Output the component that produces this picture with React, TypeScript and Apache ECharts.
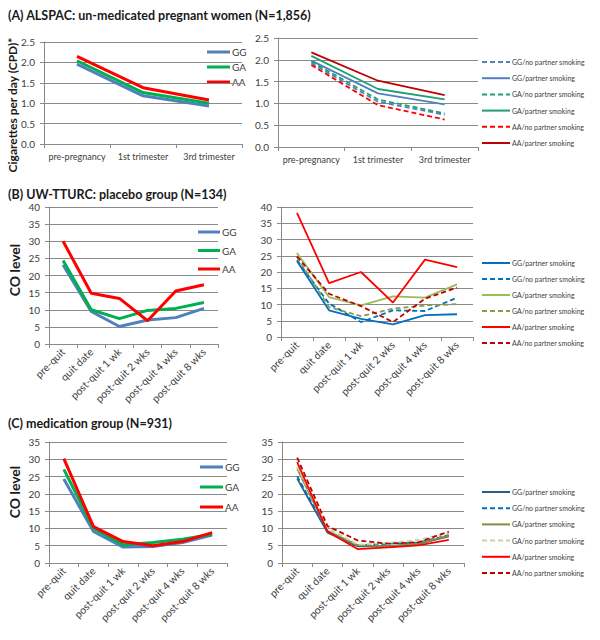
import React, { useEffect, useRef } from "react";
import * as echarts from "echarts";

const catsA = ["pre-pregnancy", "1st trimester", "3rd trimester"];
const catsBC = ["pre-quit", "quit date", "post-quit 1 wk", "post-quit 2 wks", "post-quit 4 wks", "post-quit 8 wks"];

// Panel A left
const aGG = [1.96, 1.18, 0.93];
const aGA = [2.04, 1.26, 1.0];
const aAA = [2.15, 1.38, 1.08];
// Panel A right
const aGGno = [1.92, 1.04, 0.74];
const aGGp = [1.98, 1.23, 0.98];
const aGAno = [1.96, 1.09, 0.77];
const aGAp = [2.09, 1.33, 1.09];
const aAAno = [1.88, 0.96, 0.63];
const aAAp = [2.17, 1.52, 1.19];
// Panel B left
const bGG = [23.1, 9.5, 5.1, 7.0, 7.7, 10.4];
const bGA = [24.4, 10.0, 7.4, 9.8, 10.4, 12.1];
const bAA = [30.0, 14.8, 13.3, 6.8, 15.5, 17.3];
// Panel B right
const bGGp = [23.4, 8.2, 5.6, 3.9, 6.7, 7.0];
const bGGno = [23.6, 10.3, 4.6, 8.2, 8.0, 12.1];
const bGAp = [25.8, 12.3, 9.7, 12.5, 12.1, 16.2];
const bGAno = [24.6, 9.2, 6.4, 8.7, 9.7, 10.1];
const bAAp = [38.2, 16.6, 20.0, 10.6, 23.8, 21.5];
const bAAno = [24.8, 13.3, 9.5, 4.6, 11.8, 15.2];
// Panel C left
const cGG = [24.3, 9.1, 4.6, 4.8, 5.9, 8.1];
const cGA = [27.1, 10.1, 5.3, 5.9, 6.9, 8.3];
const cAA = [30.2, 10.5, 6.2, 5.0, 6.2, 8.8];
// Panel C right
const cGGp = [24.4, 8.8, 4.8, 4.8, 5.5, 7.7];
const cGGno = [25.1, 9.1, 5.1, 5.6, 5.9, 8.1];
const cGAp = [27.3, 9.3, 5.1, 4.8, 5.6, 7.9];
const cGAno = [27.8, 10.1, 5.3, 5.8, 6.7, 8.6];
const cAAp = [29.2, 9.1, 4.0, 4.5, 5.1, 6.7];
const cAAno = [30.5, 10.7, 6.5, 5.6, 6.0, 9.1];

const titles = [
  "(A) ALSPAC: un-medicated pregnant women (N=1,856)",
  "(B) UW-TTURC: placebo group (N=134)",
  "(C) medication group (N=931)",
];

const FONT = "Lato, 'Open Sans', sans-serif";
const LBL = "#404040";
const GRIDC = "#8a8a8a";

type S = { name: string; data: number[]; color: string; dashed: boolean };

const panels = [
  {
    grid: { left: 44, top: 42, width: 198, height: 102 },
    cats: catsA, max: 2.5, interval: 0.5, dec: 1, rotate: 0, width: 3,
    legend: { x: 207, y: 52, dy: 15, len: 23, fs: 10 },
    series: [
      { name: "GG", data: aGG, color: "#4f81bd", dashed: false },
      { name: "GA", data: aGA, color: "#00b050", dashed: false },
      { name: "AA", data: aAA, color: "#ff0000", dashed: false },
    ] as S[],
  },
  {
    grid: { left: 278, top: 38, width: 200, height: 109 },
    cats: catsA, max: 2.5, interval: 0.5, dec: 1, rotate: 0, width: 1.8,
    legend: { x: 482, y: 62, dy: 16.2, len: 28, fs: 7 },
    series: [
      { name: "GG/no partner smoking", data: aGGno, color: "#4f81bd", dashed: true },
      { name: "GG/partner smoking", data: aGGp, color: "#4f81bd", dashed: false },
      { name: "GA/no partner smoking", data: aGAno, color: "#1fa070", dashed: true },
      { name: "GA/partner smoking", data: aGAp, color: "#1fa070", dashed: false },
      { name: "AA/no partner smoking", data: aAAno, color: "#ff0000", dashed: true },
      { name: "AA/partner smoking", data: aAAp, color: "#c00000", dashed: false },
    ] as S[],
  },
  {
    grid: { left: 49, top: 207, width: 169, height: 137 },
    cats: catsBC, max: 40, interval: 5, dec: 0, rotate: 45, width: 3,
    legend: { x: 198, y: 232, dy: 18.5, len: 22, fs: 10 },
    series: [
      { name: "GG", data: bGG, color: "#4f81bd", dashed: false },
      { name: "GA", data: bGA, color: "#00b050", dashed: false },
      { name: "AA", data: bAA, color: "#ff0000", dashed: false },
    ] as S[],
  },
  {
    grid: { left: 281, top: 207, width: 192, height: 130 },
    cats: catsBC, max: 40, interval: 5, dec: 0, rotate: 45, width: 1.8,
    legend: { x: 482, y: 263, dy: 16, len: 28, fs: 7 },
    series: [
      { name: "GG/partner smoking", data: bGGp, color: "#0070c0", dashed: false },
      { name: "GG/no partner smoking", data: bGGno, color: "#0070c0", dashed: true },
      { name: "GA/partner smoking", data: bGAp, color: "#9bbb59", dashed: false },
      { name: "GA/no partner smoking", data: bGAno, color: "#8a9a4a", dashed: true },
      { name: "AA/partner smoking", data: bAAp, color: "#ff0000", dashed: false },
      { name: "AA/no partner smoking", data: bAAno, color: "#c00000", dashed: true },
    ] as S[],
  },
  {
    grid: { left: 49, top: 442, width: 178, height: 121 },
    cats: catsBC, max: 35, interval: 5, dec: 0, rotate: 45, width: 3,
    legend: { x: 200, y: 467, dy: 20, len: 23, fs: 10 },
    series: [
      { name: "GG", data: cGG, color: "#4f81bd", dashed: false },
      { name: "GA", data: cGA, color: "#00b050", dashed: false },
      { name: "AA", data: cAA, color: "#ff0000", dashed: false },
    ] as S[],
  },
  {
    grid: { left: 282, top: 442, width: 182, height: 121 },
    cats: catsBC, max: 35, interval: 5, dec: 0, rotate: 45, width: 1.8,
    legend: { x: 482, y: 492, dy: 16.2, len: 28, fs: 7 },
    series: [
      { name: "GG/partner smoking", data: cGGp, color: "#2c5d8f", dashed: false },
      { name: "GG/no partner smoking", data: cGGno, color: "#0070c0", dashed: true },
      { name: "GA/partner smoking", data: cGAp, color: "#7f8f3f", dashed: false },
      { name: "GA/no partner smoking", data: cGAno, color: "#c3d69b", dashed: true },
      { name: "AA/partner smoking", data: cAAp, color: "#ff0000", dashed: false },
      { name: "AA/no partner smoking", data: cAAno, color: "#c00000", dashed: true },
    ] as S[],
  },
];

export default function App() {
  const ref = useRef<HTMLDivElement>(null);
  useEffect(() => {
    if (!ref.current) return;
    const chart = echarts.init(ref.current, undefined, { renderer: "svg" });

    const grids: any[] = [];
    const xAxes: any[] = [];
    const yAxes: any[] = [];
    const series: any[] = [];
    const graphic: any[] = [];

    panels.forEach((p, i) => {
      grids.push({ ...p.grid, containLabel: false });
      xAxes.push({
        type: "category",
        gridIndex: i,
        data: p.cats,
        boundaryGap: true,
        axisLine: { lineStyle: { color: GRIDC, width: 1 } },
        axisTick: { show: true, length: 4, lineStyle: { color: GRIDC } },
        axisLabel: {
          color: LBL,
          fontFamily: FONT,
          fontSize: p.rotate ? 10.5 : 9,
          rotate: p.rotate,
          margin: p.rotate ? 6 : 8,
          interval: 0,
        },
      });
      yAxes.push({
        type: "value",
        gridIndex: i,
        min: 0,
        max: p.max,
        interval: p.interval,
        axisLine: { show: true, lineStyle: { color: GRIDC, width: 1 } },
        axisTick: { show: true, length: 4, lineStyle: { color: GRIDC } },
        splitLine: { show: true, lineStyle: { color: GRIDC, width: 1 } },
        axisLabel: {
          color: LBL,
          fontFamily: FONT,
          fontSize: 10,
          margin: 9,
          formatter: (v: number) => v.toFixed(p.dec),
        },
      });
      p.series.forEach((s, k) => {
        series.push({
          type: "line",
          name: s.name,
          xAxisIndex: i,
          yAxisIndex: i,
          data: s.data,
          symbol: "none",
          lineStyle: {
            color: s.color,
            width: p.width,
            type: s.dashed ? [5, 3] : "solid",
          },
          itemStyle: { color: s.color },
          z: 2 + k,
        });
        const L = p.legend;
        const y = L.y + k * L.dy;
        graphic.push({
          type: "line",
          shape: { x1: L.x, y1: y, x2: L.x + L.len, y2: y },
          style: {
            stroke: s.color,
            lineWidth: p.width === 3 ? 3 : 2,
            lineDash: s.dashed ? [5, 3] : null,
          },
        });
        graphic.push({
          type: "text",
          x: L.x + L.len + 2,
          y,
          style: {
            text: s.name,
            fontSize: L.fs,
            fontFamily: FONT,
            fill: LBL,
            verticalAlign: "middle",
            align: "left",
          },
        });
      });
    });

    const titleY = [15, 194, 423];
    titles.forEach((t, i) => {
      graphic.push({
        type: "text",
        x: 8,
        y: titleY[i],
        style: {
          text: t,
          fontSize: 12.5,
          fontWeight: "bold",
          fontFamily: FONT,
          fill: "#1a1a1a",
          verticalAlign: "middle",
          align: "left",
        },
      });
    });

    const yTitles = [
      { text: "Cigarettes per day (CPD)*", x: 12, y: 105 },
      { text: "CO level", x: 14, y: 270 },
      { text: "CO level", x: 14, y: 492 },
    ];
    yTitles.forEach((t) => {
      graphic.push({
        type: "text",
        x: t.x,
        y: t.y,
        rotation: Math.PI / 2,
        style: {
          text: t.text,
          fontSize: t.text.length > 10 ? 12 : 14,
          fontWeight: "bold",
          fontFamily: FONT,
          fill: "#1a1a1a",
          align: "center",
          verticalAlign: "middle",
        },
      });
    });

    chart.setOption({
      animation: false,
      backgroundColor: "#ffffff",
      grid: grids,
      xAxis: xAxes,
      yAxis: yAxes,
      series,
      graphic,
    });
    return () => chart.dispose();
  }, []);

  return (
    <div
      ref={ref}
      style={{ position: "absolute", left: 0, top: 0, width: 600, height: 640 }}
    />
  );
}
